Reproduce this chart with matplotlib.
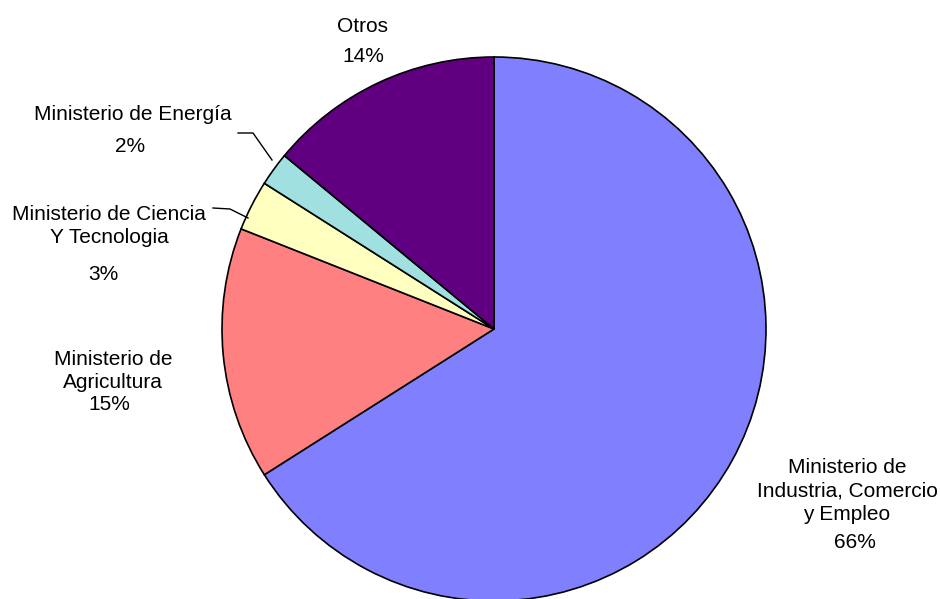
import matplotlib
matplotlib.use('Agg')
import matplotlib.pyplot as plt

# slices, clockwise from 12 o'clock
names = ['Ministerio de\nIndustria, Comercio\ny Empleo', 'Ministerio de\nAgricultura',
         'Ministerio de Ciencia\nY Tecnologia', 'Ministerio de Energía', 'Otros']
shares = [66, 15, 3, 2, 14]
colors = ['#8080FF', '#FF8080', '#FFFFC0', '#A0E0E0', '#600080']

W, H = 940, 599
plt.rcParams['font.family'] = ['Liberation Sans', 'DejaVu Sans']

fig = plt.figure(figsize=(W / 100, H / 100), dpi=100)
ax = fig.add_axes([0, 0, 1, 1])


def py(y):
    # pixel row -> data y
    return H - y


ax.pie(shares, colors=colors, startangle=90, counterclock=False,
       center=(494, py(329)), radius=272, frame=True,
       wedgeprops=dict(edgecolor='black', linewidth=1.2))
ax.set_xlim(0, W)
ax.set_ylim(0, H)
ax.set_aspect('equal')
ax.axis('off')

fs = 15
pct = ['%d%%' % s for s in shares]

# label placement (pixel coords)
ax.text(847, py(491), names[0], ha='center', va='center', fontsize=fs, linespacing=1.32)
ax.text(855, py(543), pct[0], ha='center', va='center', fontsize=fs)

ax.text(113, py(371), names[1], ha='center', va='center', fontsize=fs, linespacing=1.25)
ax.text(109, py(405), pct[1], ha='center', va='center', fontsize=fs)

ax.text(109, py(226), names[2], ha='center', va='center', fontsize=fs, linespacing=1.25)
ax.text(103, py(274), pct[2], ha='center', va='center', fontsize=fs)

ax.text(133, py(115), names[3], ha='center', va='center', fontsize=fs)
ax.text(130, py(147), pct[3], ha='center', va='center', fontsize=fs)

ax.text(363, py(27), names[4], ha='center', va='center', fontsize=fs)
ax.text(363, py(57), pct[4], ha='center', va='center', fontsize=fs)

# leader lines
ax.plot([238, 253, 272], [py(133), py(133), py(160)], color='black', lw=1)
ax.plot([213, 230, 248], [py(208), py(209), py(218)], color='black', lw=1)

fig.savefig('out.png', dpi=100)
